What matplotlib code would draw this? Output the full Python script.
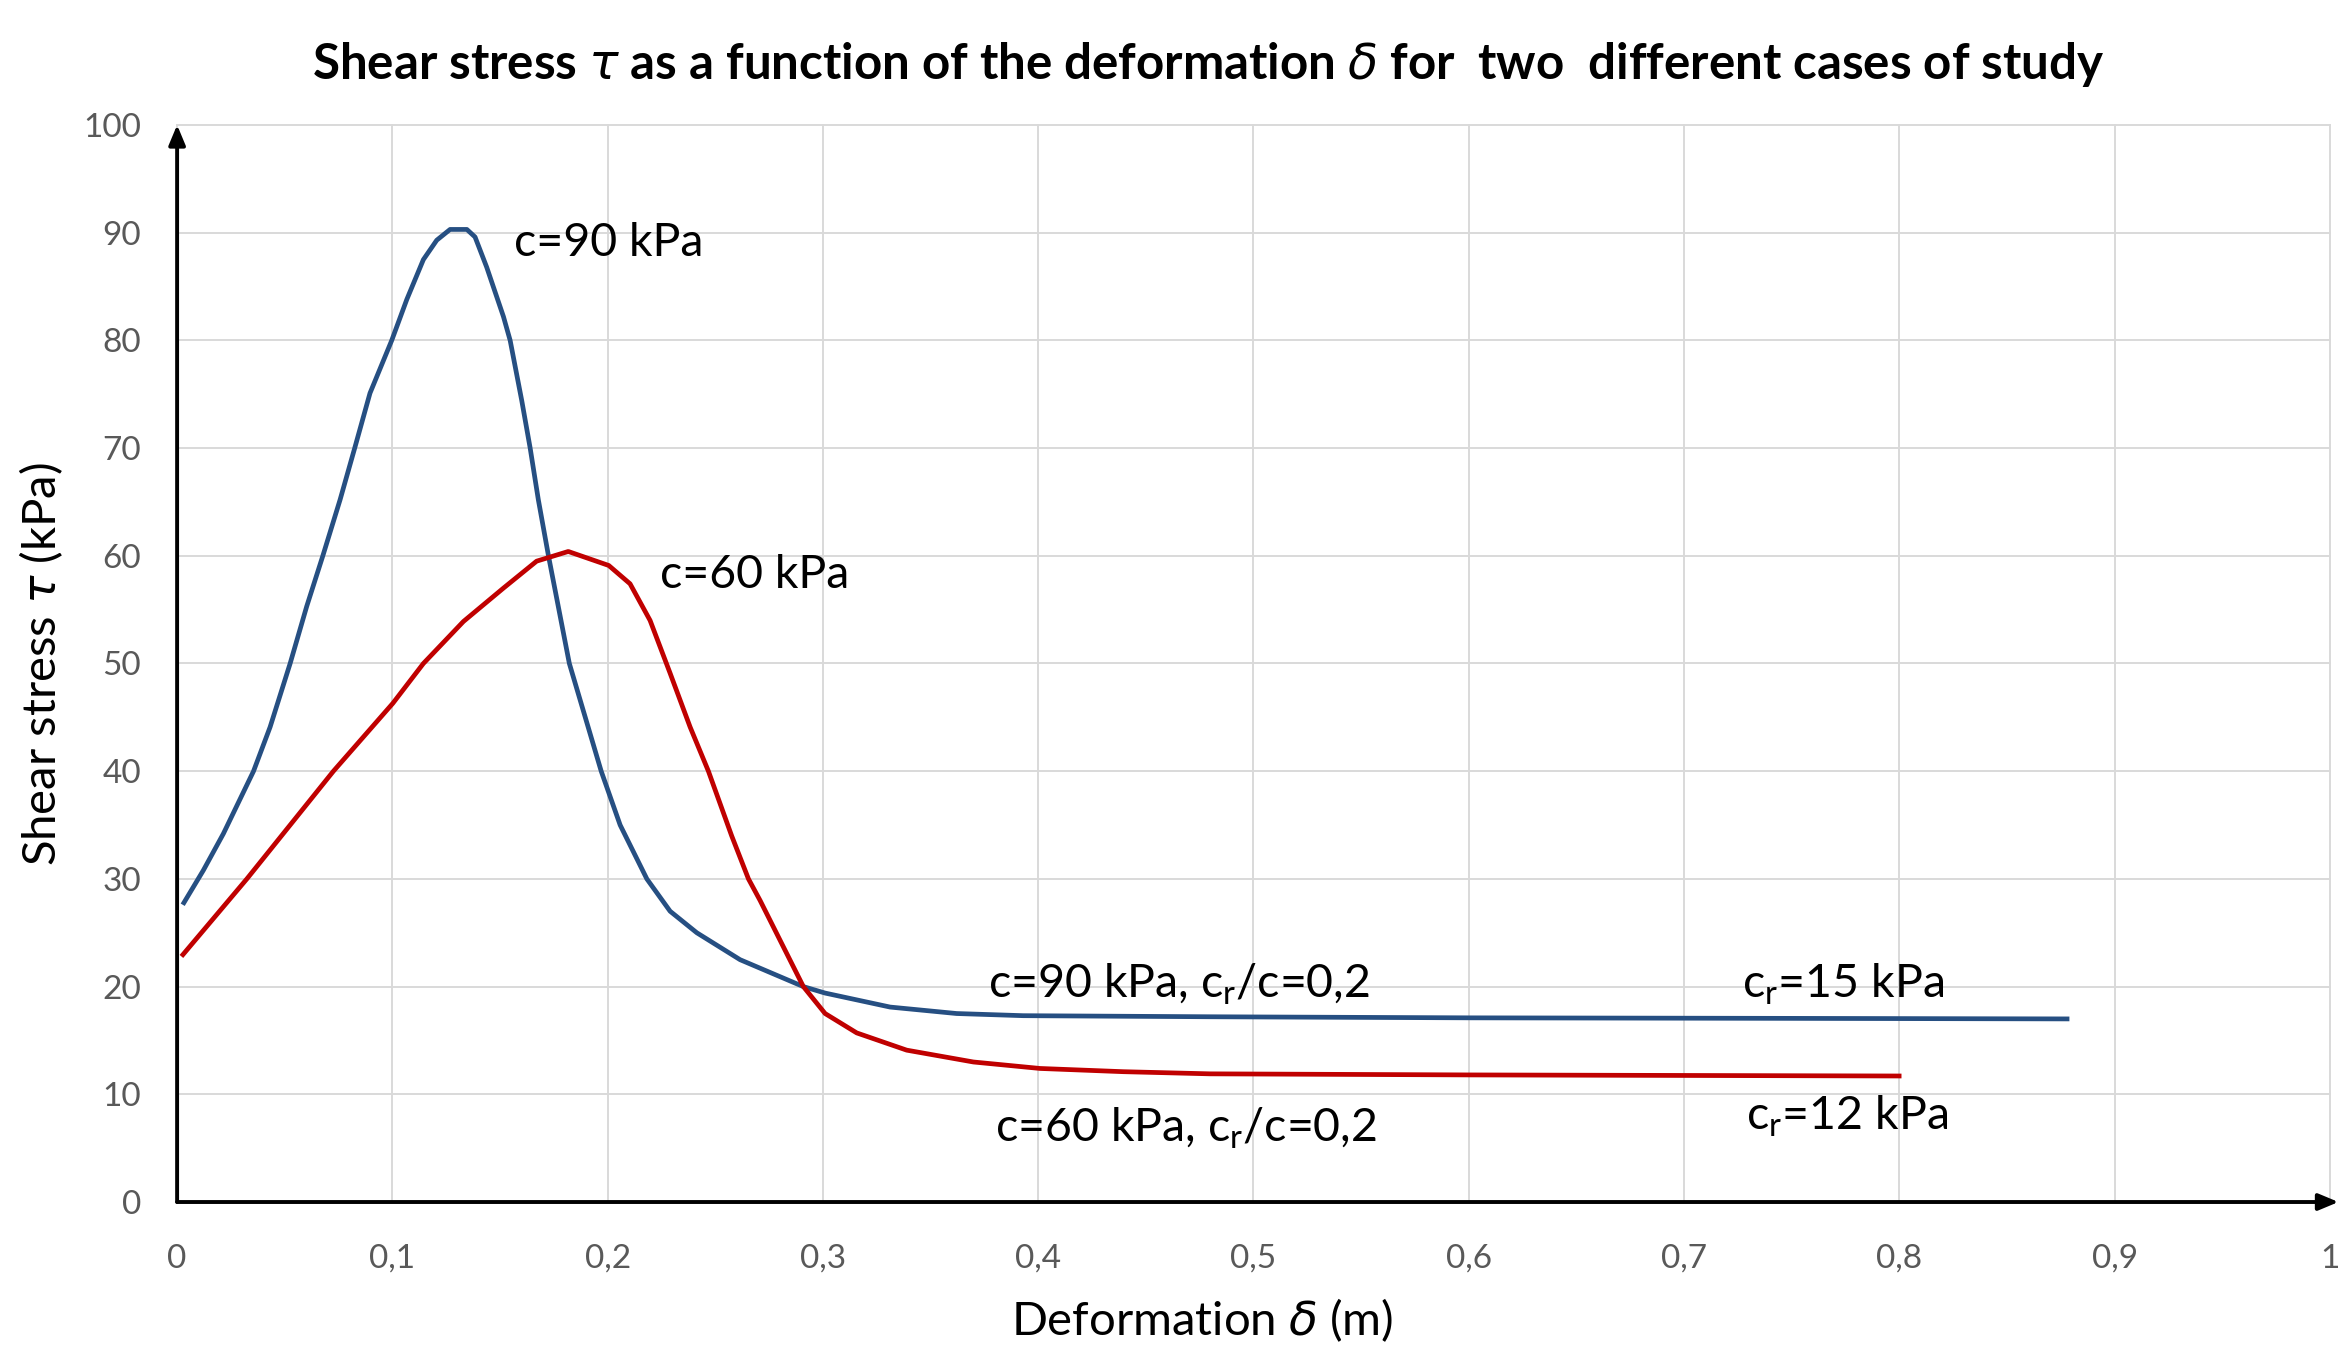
import matplotlib
matplotlib.use("Agg")
import matplotlib.pyplot as plt

plt.rcParams['font.family'] = ['Lato', 'DejaVu Sans']
plt.rcParams['mathtext.fontset'] = 'dejavusans'

# curve: c = 90 kPa
blue_x = [0.0026, 0.0122, 0.0215, 0.0355, 0.0432, 0.0525, 0.0602, 0.0677, 0.0757,
          0.0825, 0.0896, 0.0997, 0.1067, 0.1144, 0.1206, 0.1268, 0.1346, 0.1384,
          0.1438, 0.1516, 0.1547, 0.1601, 0.164, 0.1678, 0.1725, 0.1822, 0.197,
          0.2058, 0.2182, 0.229, 0.2414, 0.2615, 0.2909, 0.301, 0.3312, 0.3621,
          0.393, 0.48, 0.60, 0.75, 0.879]
blue_y = [27.6, 30.8, 34.2, 40.0, 44.1, 50.0, 55.3, 60.0, 65.2,
          70.0, 75.1, 80.0, 83.8, 87.5, 89.3, 90.3, 90.3, 89.6,
          86.8, 82.2, 80.0, 74.4, 70.0, 65.2, 60.0, 50.0, 40.0,
          35.0, 30.0, 27.0, 25.0, 22.5, 20.0, 19.4, 18.1, 17.5,
          17.3, 17.2, 17.1, 17.05, 17.0]

# curve: c = 60 kPa
red_x = [0.002, 0.0324, 0.0726, 0.1002, 0.1144, 0.133, 0.1516, 0.167, 0.1817,
         0.2005, 0.2104, 0.2197, 0.229, 0.2383, 0.2468, 0.2576, 0.2654, 0.2708,
         0.2816, 0.2909, 0.301, 0.3157, 0.3389, 0.3699, 0.4008, 0.4395, 0.4798,
         0.60, 0.801]
red_y = [22.8, 30.0, 40.0, 46.3, 50.0, 53.9, 57.0, 59.5, 60.4,
         59.1, 57.4, 54.0, 49.1, 44.1, 40.0, 34.0, 30.0, 28.0,
         23.7, 20.0, 17.5, 15.7, 14.1, 13.0, 12.4, 12.1, 11.9,
         11.8, 11.7]

x_ticks = [0, 0.1, 0.2, 0.3, 0.4, 0.5, 0.6, 0.7, 0.8, 0.9, 1.0]
x_labels = ['0', '0,1', '0,2', '0,3', '0,4', '0,5', '0,6', '0,7', '0,8', '0,9', '1']
y_ticks = [0, 10, 20, 30, 40, 50, 60, 70, 80, 90, 100]

fig = plt.figure(figsize=(23.52, 13.48), dpi=100)
ax = fig.add_axes([0.0753, 0.1083, 0.9153, 0.799])

ax.plot(blue_x, blue_y, color='#264F82', lw=3.4, solid_capstyle='butt',
        solid_joinstyle='round', zorder=3)
ax.plot(red_x, red_y, color='#C00000', lw=3.4, solid_capstyle='butt',
        solid_joinstyle='round', zorder=3)

ax.set_xlim(0, 1)
ax.set_ylim(0, 100)
ax.set_xticks(x_ticks)
ax.set_xticklabels(x_labels)
ax.set_yticks(y_ticks)
ax.grid(True, color='#D9D9D9', lw=1.4)
ax.set_axisbelow(True)
for ln in ax.get_xgridlines() + ax.get_ygridlines():
    ln.set_clip_on(False)
for s in ax.spines.values():
    s.set_visible(False)
ax.tick_params(length=0, labelsize=24, labelcolor='#595959')
ax.tick_params(axis='x', pad=30)
ax.tick_params(axis='y', pad=26)

# axis arrows
arrow = dict(arrowstyle='-|>,head_length=0.6,head_width=0.25', lw=2.8,
             color='black', shrinkA=0, shrinkB=0, mutation_scale=20)
ax.annotate('', xy=(0, 100), xytext=(0, 0), arrowprops=arrow,
            annotation_clip=False, zorder=4)
ax.annotate('', xy=(1.004, 0), xytext=(0, 0), arrowprops=arrow,
            annotation_clip=False, zorder=4)

# labels on the curves
fs = 33.5
ax.text(0.1565, 87.8, 'c=90 kPa', fontsize=fs, va='baseline')
ax.text(0.2243, 57.0, 'c=60 kPa', fontsize=fs, va='baseline')
ax.text(0.3767, 19.0, r'c=90 kPa, c$\mathregular{_r}$/c=0,2', fontsize=fs, va='baseline')
ax.text(0.7267, 19.0, r'c$\mathregular{_r}$=15 kPa', fontsize=fs, va='baseline')
ax.text(0.380, 5.6, r'c=60 kPa, c$\mathregular{_r}$/c=0,2', fontsize=fs, va='baseline')
ax.text(0.7289, 6.75, r'c$\mathregular{_r}$=12 kPa', fontsize=fs, va='baseline')

fig.text(0.5135, 0.952,
         r'Shear stress $\tau$ as a function of the deformation $\delta$ for  two  different cases of study',
         fontsize=35.5, fontweight='bold', ha='center', va='center')
fig.text(0.0174, 0.5074, r'Shear stress $\tau$ (kPa)', fontsize=34,
         rotation=90, ha='center', va='center')
fig.text(0.511, 0.0205, r'Deformation $\delta$ (m)', fontsize=34,
         ha='center', va='center')

fig.savefig('out.png', dpi=100)
